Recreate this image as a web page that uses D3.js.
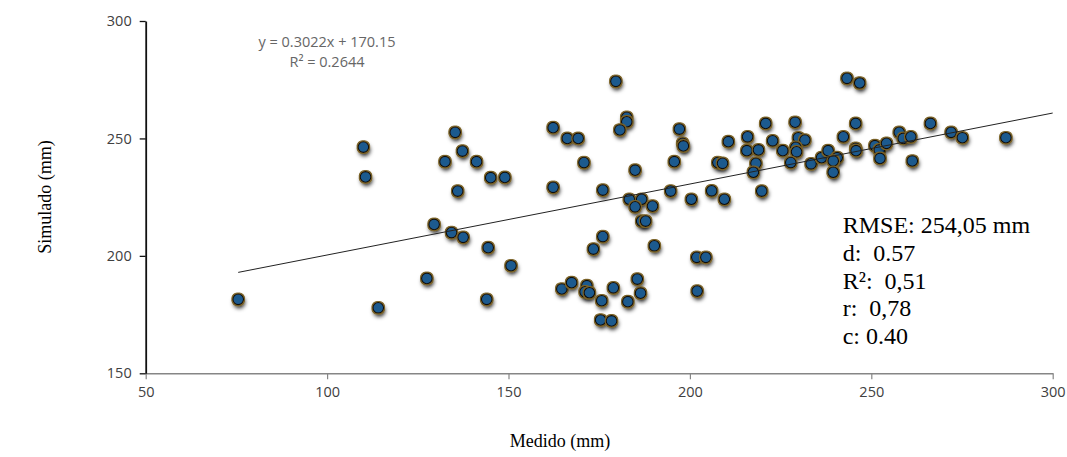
<!DOCTYPE html>
<html>
<head>
<meta charset="utf-8">
<script src="https://cdn.jsdelivr.net/npm/d3@7"></script>
<style>
    html, body { margin: 0; padding: 0; background: #fff; }
    #chart { width: 1067px; height: 457px; }
</style>
</head>
<body>
<div id="chart"></div>
<script>
// Medido vs Simulado scatter with linear trendline (D3 v7, global `d3`).
var measured = [
    75.5, 110.0, 110.6, 114.1, 127.5, 129.5, 132.5, 135.3, 137.3, 141.2,
    145.1, 149.0, 136.0, 134.3, 137.5, 144.4, 144.0, 150.7, 162.3, 166.2,
    169.2, 162.3, 170.8, 164.7, 167.4, 179.6, 182.6, 182.6, 180.7, 184.9,
    176.0, 183.3, 186.7, 184.9, 189.7, 186.7, 187.8, 176.0, 173.4, 190.2,
    171.6, 171.1, 172.3, 175.7, 178.9, 182.9, 185.5, 186.4, 175.4, 178.4,
    197.1, 198.0, 198.2, 195.7, 194.7, 200.4, 201.9, 204.4, 202.0, 206.0,
    207.7, 209.0, 209.5, 210.6, 215.9, 220.9, 222.8, 215.7, 218.9, 218.2,
    217.5, 219.8, 243.3, 246.8, 229.0, 245.7, 266.3, 225.6, 229.9, 231.7,
    229.2, 229.4, 242.3, 227.8, 233.4, 236.3, 238.1, 240.6, 239.5, 239.5,
    245.7, 245.8, 251.0, 252.2, 254.2, 252.4, 257.7, 258.8, 260.9, 261.3,
    272.0, 275.1, 287.1
];
var simulated = [
    181.5, 246.3, 233.6, 177.9, 190.4, 213.4, 240.1, 252.6, 244.6, 240.1,
    233.3, 233.4, 227.6, 209.9, 207.9, 203.5, 181.5, 195.8, 254.6, 250.0,
    250.0, 229.2, 239.7, 185.9, 188.6, 274.3, 259.0, 257.1, 253.6, 236.5,
    228.0, 224.1, 224.1, 220.9, 221.2, 214.8, 214.8, 208.2, 202.9, 204.3,
    187.3, 184.7, 184.3, 180.9, 186.4, 180.5, 190.1, 184.1, 172.7, 172.3,
    254.0, 247.9, 246.8, 240.1, 227.6, 224.1, 199.4, 199.4, 185.0, 227.7,
    239.7, 239.4, 224.1, 248.6, 250.7, 256.4, 249.0, 244.8, 245.1, 239.4,
    235.6, 227.6, 275.6, 273.6, 256.9, 256.4, 256.4, 244.8, 250.3, 249.3,
    246.2, 244.3, 250.7, 239.7, 239.2, 241.8, 244.8, 241.8, 240.4, 235.6,
    245.8, 244.8, 246.9, 245.1, 247.9, 241.5, 252.6, 250.0, 250.7, 240.4,
    252.6, 250.3, 250.3
];
var xTicks = [50, 100, 150, 200, 250, 300];
var yTicks = [150, 200, 250, 300];
var trendSlope = 0.3022, trendIntercept = 170.15;
var equationLines = ["y = 0.3022x + 170.15", "R\u00b2 = 0.2644"];
var statsLines = ["RMSE: 254,05 mm", "d:  0.57", "R\u00b2:  0,51", "r:  0,78", "c: 0.40"];

(function () {
    var width = 1067, height = 457;
    var m = { top: 21, right: 14.3, bottom: 83.7, left: 145.7 };
    var svg = d3.select("#chart").append("svg").attr("width", width).attr("height", height);

    // marker effect: dark soft shadow below plus a thin bronze rim
    var defs = svg.append("defs");
    var f = defs.append("filter").attr("id", "mk").attr("x", "-60%").attr("y", "-60%")
        .attr("width", "220%").attr("height", "240%");
    f.append("feGaussianBlur").attr("in", "SourceAlpha").attr("stdDeviation", 2).attr("result", "b");
    f.append("feOffset").attr("in", "b").attr("dx", 0.8).attr("dy", 2.8).attr("result", "o");
    f.append("feFlood").attr("flood-color", "#000").attr("flood-opacity", 0.9);
    f.append("feComposite").attr("in2", "o").attr("operator", "in").attr("result", "sh");
    f.append("feMorphology").attr("in", "SourceAlpha").attr("operator", "dilate").attr("radius", 0.6).attr("result", "d");
    f.append("feFlood").attr("flood-color", "#7a6226");
    f.append("feComposite").attr("in2", "d").attr("operator", "in").attr("result", "glow");
    var mg = f.append("feMerge");
    mg.append("feMergeNode").attr("in", "sh");
    mg.append("feMergeNode").attr("in", "glow");
    mg.append("feMergeNode").attr("in", "SourceGraphic");

    var x = d3.scaleLinear().domain([50, 300]).range([m.left, width - m.right]);
    var y = d3.scaleLinear().domain([150, 300]).range([height - m.bottom, m.top]);

    var tickFont = "'Liberation Sans Narrow', 'Open Sans', sans-serif";

    // x axis (grey)
    var gx = svg.append("g").attr("transform", "translate(0," + (height - m.bottom) + ")")
        .call(d3.axisBottom(x).tickValues(xTicks).tickSize(6).tickSizeOuter(0).tickPadding(7));
    gx.select(".domain").attr("stroke", "#868686").attr("stroke-width", 1.6);
    gx.selectAll(".tick line").attr("stroke", "#868686").attr("stroke-width", 1.2);
    gx.selectAll("text").style("font-family", tickFont).style("font-size", "14.5px").attr("fill", "#404040");

    // y axis (black)
    var gy = svg.append("g").attr("transform", "translate(" + m.left + ",0)")
        .call(d3.axisLeft(y).tickValues(yTicks).tickSize(6).tickSizeOuter(0).tickPadding(8));
    gy.select(".domain").attr("stroke", "#111").attr("stroke-width", 1.8);
    gy.selectAll(".tick line").attr("stroke", "#111").attr("stroke-width", 1.3);
    gy.selectAll("text").style("font-family", tickFont).style("font-size", "14.5px").attr("fill", "#404040");

    // markers
    var pts = measured.map(function (v, i) { return { mx: v, sy: simulated[i] }; });
    svg.append("g").selectAll("circle").data(pts).enter().append("circle")
        .attr("cx", function (d) { return x(d.mx); })
        .attr("cy", function (d) { return y(d.sy); })
        .attr("r", 5.3)
        .attr("fill", "#1f5a8e").attr("stroke", "#0a0a0a").attr("stroke-width", 1.1)
        .attr("filter", "url(#mk)");

    // trendline, from the smallest measured value to the axis end
    var x0 = d3.min(measured), x1 = 300;
    svg.append("line")
        .attr("x1", x(x0)).attr("y1", y(trendSlope * x0 + trendIntercept))
        .attr("x2", x(x1)).attr("y2", y(trendSlope * x1 + trendIntercept))
        .attr("stroke", "#222").attr("stroke-width", 1);

    // trendline label
    svg.append("g").selectAll("text").data(equationLines).enter().append("text")
        .attr("x", 327).attr("y", function (d, i) { return 46.5 + i * 20; })
        .attr("text-anchor", "middle")
        .style("font-family", tickFont).style("font-size", "14.5px").attr("fill", "#666")
        .text(function (d) { return d; });

    // statistics box
    svg.append("g").selectAll("text").data(statsLines).enter().append("text")
        .attr("x", 842.7).attr("y", function (d, i) { return 233.3 + i * 27.6; })
        .style("font-family", "'Liberation Serif', 'Times New Roman', serif").style("font-size", "24px")
        .style("white-space", "pre").attr("fill", "#000")
        .text(function (d) { return d; });

    // axis titles
    var serif = "'Liberation Serif', 'Times New Roman', serif";
    svg.append("text").attr("x", 560).attr("y", 447).attr("text-anchor", "middle")
        .style("font-family", serif).style("font-size", "18px").text("Medido (mm)");
    svg.append("text").attr("transform", "translate(51,197) rotate(-90)").attr("text-anchor", "middle")
        .style("font-family", serif).style("font-size", "18px").text("Simulado (mm)");
})();
</script>
</body>
</html>
